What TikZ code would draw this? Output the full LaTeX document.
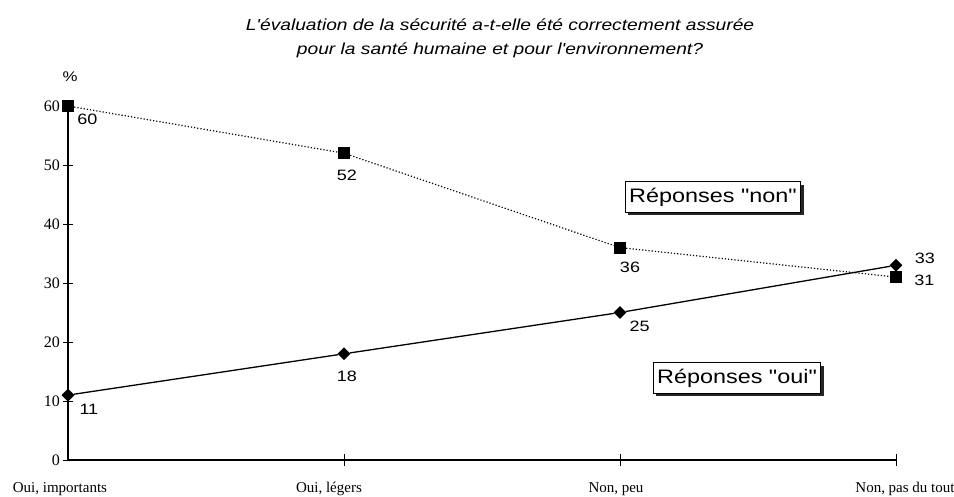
\documentclass[tikz,border=0pt]{standalone}
\usepackage{fontspec}
\setmainfont{Liberation Serif}
\setsansfont[FakeStretch=1.2,Ligatures=TeXOff]{Liberation Sans}
\usetikzlibrary{positioning,shapes.geometric,shadows}

\begin{document}
\begin{tikzpicture}[x=276pt,y=5.9pt,
  carre/.style={fill=black,inner sep=0pt,minimum size=12pt},
  losange/.style={diamond,fill=black,inner sep=0pt,minimum size=13pt},
  valeur/.style={font=\sffamily\fontsize{15}{17}\selectfont,inner sep=1pt},
  graduation/.style={font=\fontsize{16}{18}\selectfont,anchor=east,inner sep=1pt},
  categorie/.style={font=\fontsize{15}{17}\selectfont,anchor=base},
  legende/.style={draw,line width=1.2pt,fill=white,inner xsep=4pt,inner ysep=6pt,
    font=\sffamily\fontsize{19.5}{21}\selectfont,
    drop shadow={shadow xshift=3pt,shadow yshift=-3pt,fill=black!85,opacity=1}}]
\useasboundingbox (-68pt,-36pt) rectangle (886pt,460pt);

% titre
\node[font=\sffamily\itshape\fontsize{16}{24}\selectfont,align=center] (titre) at (432pt,422pt)
  {L'évaluation de la sécurité a-t-elle été correctement assurée\\pour la santé humaine et pour l'environnement?};

% axes
\coordinate (origine) at (0,0);
\coordinate (haut) at (0,60);
\coordinate (fin) at (3,0);
\draw[line width=1.4pt] (origine) -- (haut);
\draw[line width=1.3pt] (origine) -- (fin);
\node[font=\sffamily\fontsize{14}{16}\selectfont] (pourcent) at (2pt,383pt) {\%};
\foreach \v in {0,10,...,60} {
  \draw[semithick] ([xshift=-5pt]0,\v) -- ([xshift=5pt]0,\v);
  \node[graduation] (g\v) at ([xshift=-7pt]0,\v) {\v};
}
\foreach \i in {1,...,3}
  \draw[semithick] ([yshift=-6pt]\i,0) -- ([yshift=6pt]\i,0);

% categories
\node[categorie] (c1) at (-8pt,-32pt) {Oui, importants};
\node[categorie] (c2) at (261pt,-32pt) {Oui, légers};
\node[categorie] (c3) at (548pt,-32pt) {Non, peu};
\node[categorie] (c4) at (837pt,-32pt) {Non, pas du tout};

% reponses non
\node[carre] (n1) at (0,60) {};
\node[carre] (n2) at (1,52) {};
\node[carre] (n3) at (2,36) {};
\node[carre] (n4) at (3,31) {};
\draw[dotted,line width=1.2pt] (n1) -- (n2) -- (n3) -- (n4);

% reponses oui
\node[losange] (o1) at (0,11) {};
\node[losange] (o2) at (1,18) {};
\node[losange] (o3) at (2,25) {};
\node[losange] (o4) at (3,33) {};
\draw[line width=1.3pt] (o1) -- (o2) -- (o3) -- (o4);

% valeurs
\node[valeur,below right=1pt and 2pt of n1] (v60) {60};
\node[valeur,below=9pt of n2,xshift=3pt] (v52) {52};
\node[valeur,below=7pt of n3,xshift=10pt] (v36) {36};
\node[valeur,right=11pt of n4,yshift=-3pt] (v31) {31};
\node[valeur,right=11pt of o4,yshift=7pt] (v33) {33};
\node[valeur,below right=4pt and 5pt of o3] (v25) {25};
\node[valeur,below=9pt of o2,xshift=3pt] (v18) {18};
\node[valeur,below right=5pt and 7pt of o1] (v11) {11};

% legendes
\node[legende] (lnon) at (645pt,263pt) {Réponses "non"};
\node[legende] (loui) at (669pt,82pt) {Réponses "oui"};
\end{tikzpicture}
\end{document}
